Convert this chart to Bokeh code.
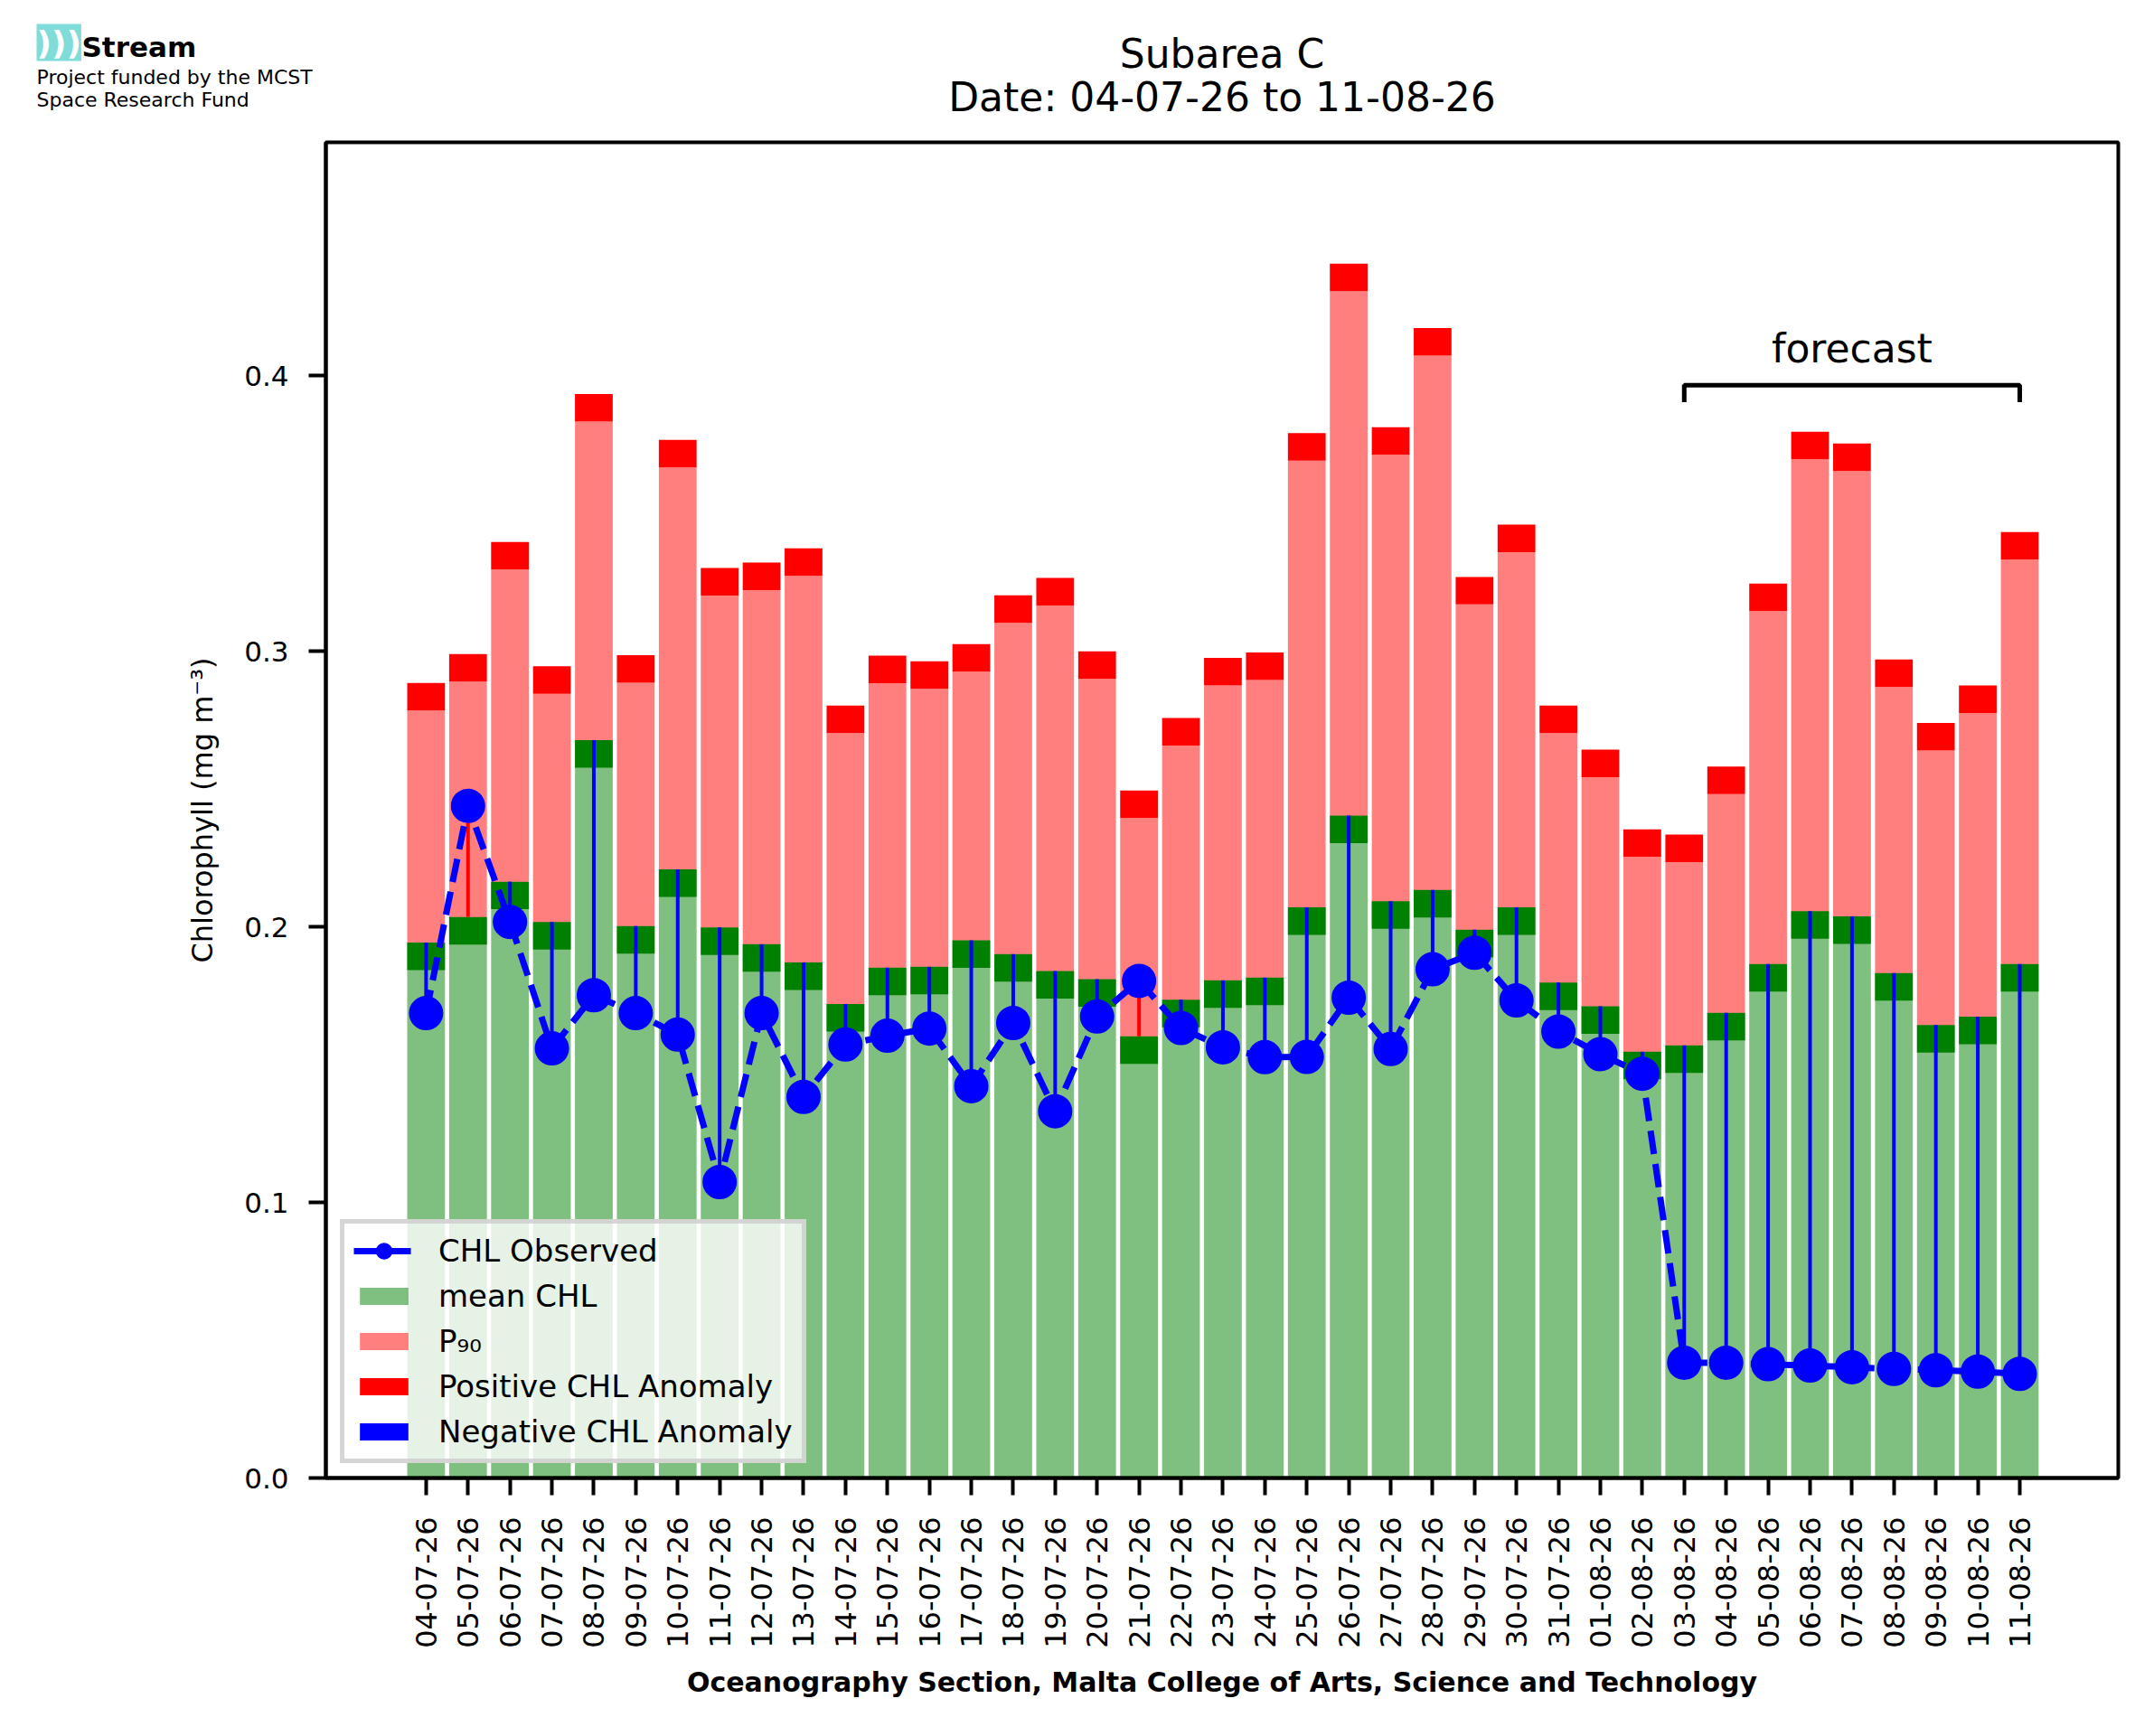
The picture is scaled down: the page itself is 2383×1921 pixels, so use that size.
import numpy as np
from bokeh.plotting import figure
from bokeh.layouts import column
from bokeh.models import (ColumnDataSource, FixedTicker, Legend, LegendItem, Label,
                          Range1d, NumeralTickFormatter)
from bokeh.core.properties import value
from bokeh.embed import file_html
from bokeh.resources import INLINE

# ---- data ----
dates = ["04-07-26", "05-07-26", "06-07-26", "07-07-26", "08-07-26", "09-07-26",
         "10-07-26", "11-07-26", "12-07-26", "13-07-26", "14-07-26", "15-07-26",
         "16-07-26", "17-07-26", "18-07-26", "19-07-26", "20-07-26", "21-07-26",
         "22-07-26", "23-07-26", "24-07-26", "25-07-26", "26-07-26", "27-07-26",
         "28-07-26", "29-07-26", "30-07-26", "31-07-26", "01-08-26", "02-08-26",
         "03-08-26", "04-08-26", "05-08-26", "06-08-26", "07-08-26", "08-08-26",
         "09-08-26", "10-08-26", "11-08-26"]

mean_chl = [0.1943, 0.2036, 0.2164, 0.2018, 0.2678, 0.2003, 0.2209, 0.1998, 0.1937,
            0.1871, 0.1720, 0.1852, 0.1855, 0.1951, 0.1901, 0.1840, 0.1810, 0.1603,
            0.1736, 0.1806, 0.1816, 0.2071, 0.2404, 0.2093, 0.2134, 0.1990, 0.2071,
            0.1798, 0.1712, 0.1547, 0.1570, 0.1688, 0.1865, 0.2057, 0.2038, 0.1832,
            0.1644, 0.1674, 0.1865]

p90_chl = [0.2885, 0.2990, 0.3397, 0.2946, 0.3934, 0.2986, 0.3767, 0.3302, 0.3322,
           0.3374, 0.2803, 0.2984, 0.2964, 0.3026, 0.3203, 0.3266, 0.3000, 0.2495,
           0.2758, 0.2976, 0.2996, 0.3792, 0.4407, 0.3813, 0.4173, 0.3270, 0.3460,
           0.2803, 0.2643, 0.2354, 0.2335, 0.2582, 0.3246, 0.3797, 0.3754, 0.2970,
           0.2740, 0.2876, 0.3433]

obs_chl = [0.1687, 0.2439, 0.2018, 0.1559, 0.1752, 0.1687, 0.1609, 0.1074, 0.1687,
           0.1383, 0.1573, 0.1605, 0.1631, 0.1422, 0.1651, 0.1331, 0.1675, 0.1804,
           0.1633, 0.1563, 0.1527, 0.1528, 0.1743, 0.1557, 0.1846, 0.1906, 0.1733,
           0.1620, 0.1538, 0.1467, 0.0418, 0.0418, 0.0413, 0.0408, 0.0402, 0.0396,
           0.0391, 0.0386, 0.0378]

forecast_start = "03-08-26"
forecast_end = "11-08-26"
bracket_y = 0.3966
bracket_drop = 0.0062
forecast_label_y = 0.410
band = 0.01

FONT = "DejaVu Sans"

# page geometry (px): a header strip on top of the chart figure
W, H = 2370, 1900
HEAD = 140
FRAME_L, FRAME_R, FRAME_T, FRAME_B = 360, 2343, 157, 1635
X0, X1, Y0, Y1 = -2.39, 40.35, 0.0, 0.4847

xs = np.arange(len(dates))
mean = np.array(mean_chl)
p90 = np.array(p90_chl)
obs = np.array(obs_chl)

src = ColumnDataSource(dict(
    x=xs, mean=mean, mean_lo=mean - band, p90=p90, p90_lo=p90 - band, obs=obs,
    anom=["red" if o > m else "blue" for o, m in zip(obs, mean)],
))

# ---- header: logo and the two centred title lines (data units = canvas px) ----
head = figure(width=W, height=HEAD, output_backend="svg", toolbar_location=None,
              x_range=Range1d(0, W), y_range=Range1d(HEAD, 0), min_border=0,
              x_axis_location=None, y_axis_location=None, outline_line_color=None)
if "frame_align" in head.properties():
    head.frame_align = False          # keep the header frame full width
else:
    head.x_range = Range1d(FRAME_L, FRAME_R)
head.grid.visible = False


def mid_y(baseline, size):
    # labels are set on their vertical middle
    return baseline - 0.35 * size


mid = (FRAME_L + FRAME_R) / 2
head.add_layout(Label(x=mid, y=mid_y(74, 44), text="Subarea C", text_align="center",
                      text_baseline="middle", text_font=FONT, text_font_size="44px",
                      text_color="black"))
head.add_layout(Label(x=mid, y=mid_y(122.7, 44), text="Date: 04-07-26 to 11-08-26",
                      text_align="center", text_baseline="middle", text_font=FONT,
                      text_font_size="44px", text_color="black"))
head.add_layout(Label(x=40, y=26, text=")))", text_font=FONT, text_font_size="36px",
                      text_font_style="bold", text_color="white", text_baseline="top",
                      background_fill_color="#7fdcd8"))
head.add_layout(Label(x=90, y=mid_y(62, 31), text="Stream", text_font=FONT,
                      text_font_size="31px", text_font_style="bold", text_color="black",
                      text_baseline="middle"))
head.add_layout(Label(x=40, y=mid_y(93, 22), text="Project funded by the MCST", text_font=FONT,
                      text_font_size="22px", text_color="black", text_baseline="middle"))
head.add_layout(Label(x=40, y=mid_y(118, 22), text="Space Research Fund", text_font=FONT,
                      text_font_size="22px", text_color="black", text_baseline="middle"))

# ---- chart ----
p = figure(width=W, height=H - HEAD, output_backend="svg", toolbar_location=None,
           x_range=Range1d(X0, X1), y_range=Range1d(Y0, Y1),
           min_border_left=FRAME_L, min_border_right=W - FRAME_R,
           min_border_top=FRAME_T - HEAD, min_border_bottom=H - FRAME_B)
p.title.visible = False

p.grid.visible = False
p.outline_line_color = "black"
p.outline_line_width = 4
p.outline_line_alpha = 1

# bars
r_mean = p.vbar(x="x", bottom=0, top="mean", width=0.9, source=src,
                fill_color="green", fill_alpha=0.5, line_color=None)
p.vbar(x="x", bottom="mean_lo", top="mean", width=0.9, source=src,
       fill_color="green", line_color=None)
r_p90 = p.vbar(x="x", bottom="mean", top="p90_lo", width=0.9, source=src,
               fill_color="red", fill_alpha=0.5, line_color=None)
p.vbar(x="x", bottom="p90_lo", top="p90", width=0.9, source=src,
       fill_color="red", line_color=None)

# zero-height boxes, only for the legend swatches
r_pos = p.vbar(x="x", bottom="mean", top="mean", width=0.9, source=src,
               fill_color="red", line_color=None)
r_neg = p.vbar(x="x", bottom="mean", top="mean", width=0.9, source=src,
               fill_color="blue", line_color=None)

# anomaly sticks
p.segment(x0="x", y0="obs", x1="x", y1="mean", line_color="anom", line_width=4, source=src)

# observed: marker with a thick outline, so the legend dot is not tiny
r_line = p.line("x", "obs", source=src, line_color="blue", line_width=7, line_dash="26 11")
r_dot = p.scatter("x", "obs", source=src, size=29, fill_color="blue",
                  line_color="blue", line_width=9)

# forecast bracket
f0, f1 = dates.index(forecast_start), dates.index(forecast_end)
p.line([f0, f0, f1, f1], [bracket_y - bracket_drop, bracket_y, bracket_y, bracket_y - bracket_drop],
       line_color="black", line_width=5)
p.text(x=[(f0 + f1) / 2], y=[forecast_label_y], text=["forecast"], text_align="center",
       text_baseline="middle", text_font=value(FONT), text_font_size="44px", text_color="black")

# axes
for ax in (p.xaxis, p.yaxis):
    ax.axis_line_width = 4
    ax.major_tick_line_width = 4
    ax.major_tick_out = 19
    ax.major_tick_in = 0
    ax.minor_tick_line_color = None
    ax.major_label_text_font = FONT
    ax.major_label_text_color = "black"
    ax.axis_label_text_font = FONT
    ax.axis_label_text_color = "black"

p.xaxis.ticker = FixedTicker(ticks=list(range(len(dates))))
p.xaxis.major_label_overrides = {i: d for i, d in enumerate(dates)}
p.xaxis.major_label_orientation = np.pi / 2
p.xaxis.major_label_text_font_size = "32px"
p.xaxis.major_label_standoff = 24
p.xaxis.axis_label = "Oceanography Section, Malta College of Arts, Science and Technology"
p.xaxis.axis_label_text_font_size = "30px"
p.xaxis.axis_label_text_font_style = "bold"
p.xaxis.axis_label_standoff = 17

p.yaxis.ticker = FixedTicker(ticks=[0.0, 0.1, 0.2, 0.3, 0.4])
p.yaxis.formatter = NumeralTickFormatter(format="0.0")
p.yaxis.major_label_text_font_size = "31px"
p.yaxis.major_label_standoff = 22
p.yaxis.axis_label = "Chlorophyll (mg m⁻³)"
p.yaxis.axis_label_text_font_size = "32px"
p.yaxis.axis_label_text_font_style = "normal"
p.yaxis.axis_label_standoff = 24

legend = Legend(items=[
    LegendItem(label="CHL Observed", renderers=[r_line, r_dot]),
    LegendItem(label="mean CHL", renderers=[r_mean]),
    LegendItem(label="P₉₀", renderers=[r_p90]),
    LegendItem(label="Positive CHL Anomaly", renderers=[r_pos]),
    LegendItem(label="Negative CHL Anomaly", renderers=[r_neg]),
], location="bottom_left")
legend.label_text_font = FONT
legend.label_text_font_size = "34px"
legend.label_text_color = "black"
legend.glyph_width = 67
legend.glyph_height = 24
legend.label_standoff = 27
legend.label_height = 40
legend.padding = 10
legend.spacing = 10
legend.margin = 16
legend.background_fill_alpha = 0.8
legend.border_line_color = "#cccccc"
legend.border_line_width = 5
legend.border_line_alpha = 0.8
p.add_layout(legend)

page = column(head, p, spacing=0)
open("out.html", "w").write(file_html(page, INLINE))
